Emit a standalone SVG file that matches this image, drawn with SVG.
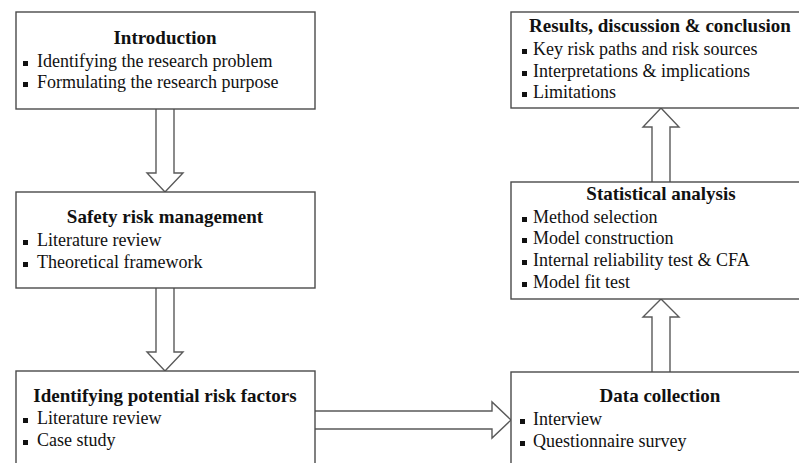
<svg xmlns="http://www.w3.org/2000/svg" width="799" height="463" viewBox="0 0 799 463">
<style>
.box{fill:#fff;stroke:#4a4a4a;stroke-width:1.4}
.t{font-family:"Liberation Serif","Times New Roman",serif;font-size:19px;font-weight:bold;fill:#111;text-anchor:middle}
.b{font-family:"Liberation Serif","Times New Roman",serif;font-size:18px;fill:#111}
.sq{fill:#111}
.arr{fill:#fff;stroke:#5a5a5a;stroke-width:1.4;stroke-linejoin:miter}
</style>
<rect width="799" height="463" fill="#fff"/>
<g id="connectors">
<path class="arr" d="M156,109 L156,173 L147,173 L165,192 L183,173 L174,173 L174,109"/>
<path class="arr" d="M156,288 L156,352 L147,352 L165,371 L183,352 L174,352 L174,288"/>
<path class="arr" d="M315,411 L492,411 L492,402 L511,420 L492,438 L492,429 L315,429"/>
<path class="arr" d="M652,372 L652,317 L643,317 L661,299 L679,317 L670,317 L670,372"/>
<path class="arr" d="M652,182 L652,127 L643,127 L661,108 L679,127 L670,127 L670,182"/>
</g>
<g id="introduction">
<rect class="box" x="16" y="12" width="299" height="97"/>
<text class="t" x="165" y="44">Introduction</text>
<rect class="sq" x="23" y="61" width="5" height="5"/>
<text class="b" x="37" y="67">Identifying the research problem</text>
<rect class="sq" x="23" y="82" width="5" height="5"/>
<text class="b" x="37" y="88">Formulating the research purpose</text>
</g>
<g id="safety">
<rect class="box" x="16" y="192" width="299" height="96"/>
<text class="t" x="165" y="223">Safety risk management</text>
<rect class="sq" x="23" y="240" width="5" height="5"/>
<text class="b" x="37" y="246">Literature review</text>
<rect class="sq" x="23" y="262" width="5" height="5"/>
<text class="b" x="37" y="268">Theoretical framework</text>
</g>
<g id="identifying">
<rect class="box" x="16" y="371" width="299" height="100"/>
<text class="t" x="165" y="402">Identifying potential risk factors</text>
<rect class="sq" x="23" y="418" width="5" height="5"/>
<text class="b" x="37" y="424">Literature review</text>
<rect class="sq" x="23" y="440" width="5" height="5"/>
<text class="b" x="37" y="446">Case study</text>
</g>
<g id="data">
<rect class="box" x="511" y="372" width="295" height="100"/>
<text class="t" x="660" y="402">Data collection</text>
<rect class="sq" x="520" y="419" width="5" height="5"/>
<text class="b" x="533" y="425">Interview</text>
<rect class="sq" x="520" y="441" width="5" height="5"/>
<text class="b" x="533" y="447">Questionnaire survey</text>
</g>
<g id="statistical">
<rect class="box" x="511" y="182" width="295" height="117"/>
<text class="t" x="661" y="200">Statistical analysis</text>
<rect class="sq" x="522" y="217" width="5" height="5"/>
<text class="b" x="533" y="223">Method selection</text>
<rect class="sq" x="522" y="238" width="5" height="5"/>
<text class="b" x="533" y="244">Model construction</text>
<rect class="sq" x="522" y="260" width="5" height="5"/>
<text class="b" x="533" y="266">Internal reliability test &amp; CFA</text>
<rect class="sq" x="522" y="282" width="5" height="5"/>
<text class="b" x="533" y="288">Model fit test</text>
</g>
<g id="results">
<rect class="box" x="511" y="12" width="295" height="96"/>
<text class="t" x="660" y="32">Results, discussion &amp; conclusion</text>
<rect class="sq" x="522" y="49" width="5" height="5"/>
<text class="b" x="533" y="55">Key risk paths and risk sources</text>
<rect class="sq" x="522" y="71" width="5" height="5"/>
<text class="b" x="533" y="77">Interpretations &amp; implications</text>
<rect class="sq" x="522" y="92" width="5" height="5"/>
<text class="b" x="533" y="98">Limitations</text>
</g>
</svg>
